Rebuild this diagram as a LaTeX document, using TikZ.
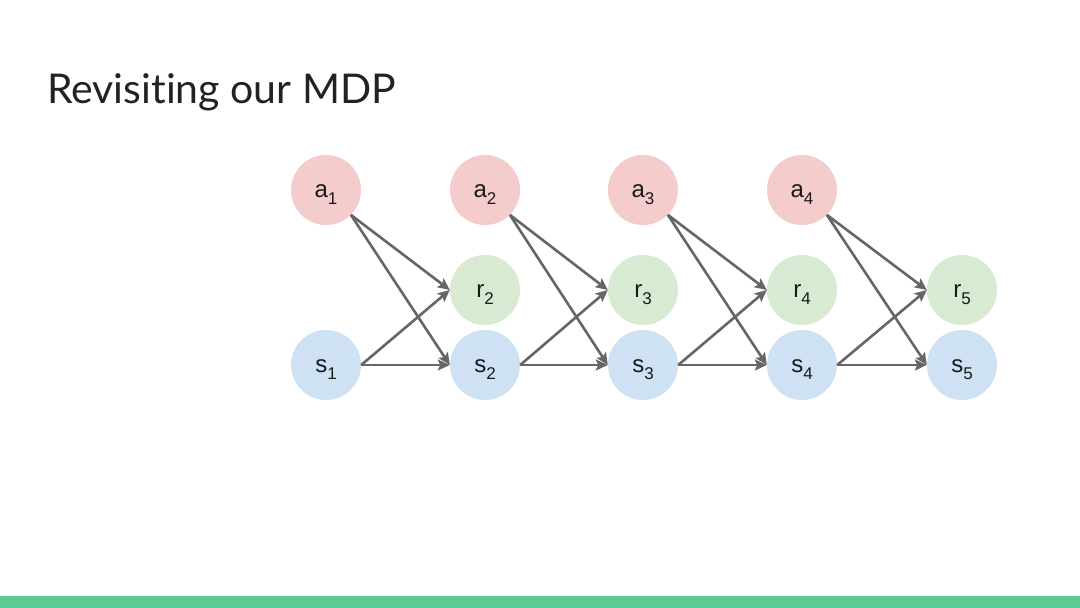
\documentclass[tikz,border=0pt]{standalone}
\usepackage{fontspec}
\setmainfont{Liberation Sans}
\newfontfamily\titlefont[Ligatures={NoCommon}]{Lato}
\usetikzlibrary{arrows.meta}
\definecolor{apink}{HTML}{F4CCCC}
\definecolor{rgreen}{HTML}{D9EAD3}
\definecolor{sblue}{HTML}{CFE2F3}
\definecolor{edgegray}{HTML}{666666}
\definecolor{bargreen}{HTML}{5BCB92}
\definecolor{titlegray}{HTML}{222222}
\tikzset{
  varnode/.style={circle, minimum size=70pt, inner sep=0pt, text=black!90, font=\fontsize{24pt}{28pt}\selectfont},
  anode/.style={varnode, fill=apink},
  rnode/.style={varnode, fill=rgreen},
  snode/.style={varnode, fill=sblue},
  edge/.style={draw=edgegray, line width=2.6pt, -{Stealth[length=12pt,width=11pt,inset=2.5pt]}},
}
\newcommand{\lbl}[2]{\smash{\raisebox{-7pt}{#1\raisebox{-7pt}{\fontsize{17pt}{20pt}\selectfont #2}}}}
\begin{document}
\begin{tikzpicture}[x=1pt,y=-1pt]
\useasboundingbox (0,0) rectangle (1080,608);
\fill[white] (0,0) rectangle (1080,608);
\fill[bargreen] (0,596) rectangle (1080,608);
\node[anchor=base west, inner sep=0pt, text=titlegray, font=\titlefont\fontsize{41pt}{48pt}\selectfont] (title) at (47,103) {Revisiting our MDP};
% nodes
\node[anode] (a1) at (326,190) {\lbl{a}{1}};
\node[anode] (a2) at (485,190) {\lbl{a}{2}};
\node[anode] (a3) at (643,190) {\lbl{a}{3}};
\node[anode] (a4) at (802,190) {\lbl{a}{4}};
\node[rnode] (r2) at (485,290) {\lbl{r}{2}};
\node[rnode] (r3) at (643,290) {\lbl{r}{3}};
\node[rnode] (r4) at (802,290) {\lbl{r}{4}};
\node[rnode] (r5) at (962,290) {\lbl{r}{5}};
\node[snode] (s1) at (326,365) {\lbl{s}{1}};
\node[snode] (s2) at (485,365) {\lbl{s}{2}};
\node[snode] (s3) at (643,365) {\lbl{s}{3}};
\node[snode] (s4) at (802,365) {\lbl{s}{4}};
\node[snode] (s5) at (962,365) {\lbl{s}{5}};
% edges
\foreach \i/\j in {1/2,2/3,3/4,4/5}{
  \draw[edge] (a\i.-45) -- (r\j.west);
  \draw[edge] (a\i.-45) -- (s\j.west);
  \draw[edge] (s\i.east) -- (r\j.west);
  \draw[edge] (s\i.east) -- (s\j.west);
}
\end{tikzpicture}
\end{document}
